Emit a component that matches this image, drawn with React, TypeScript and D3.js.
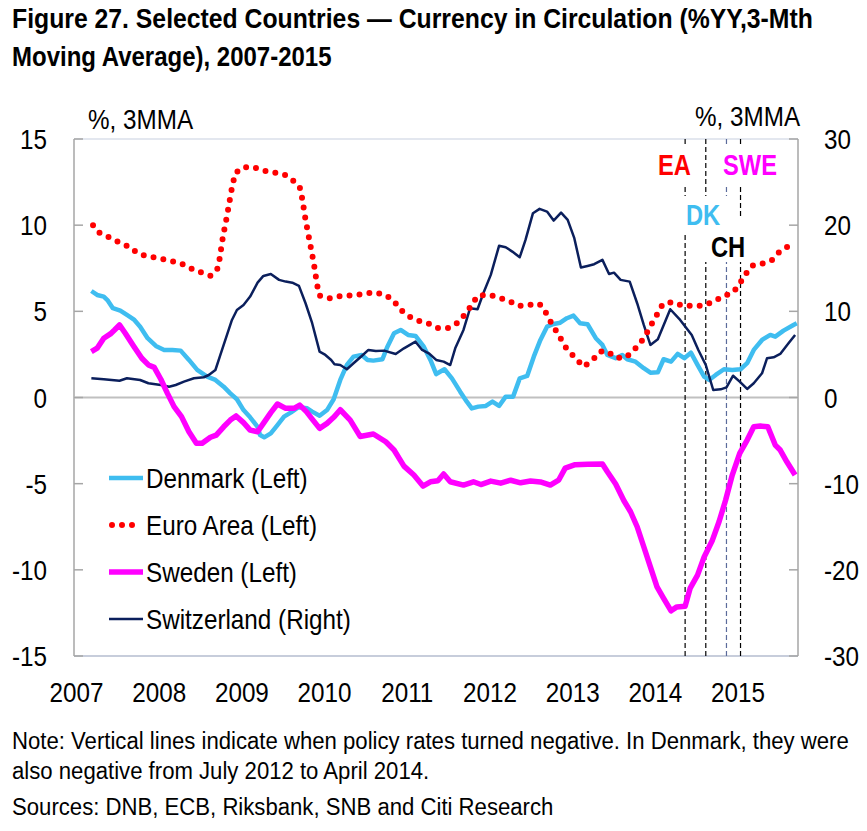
import React from 'react';
import * as d3 from 'd3';

// decimal year, value (% YoY, 3MMA)
const euroArea: [number, number][] = [
  [2007.20, 10.0], [2007.28, 9.55], [2007.40, 9.28], [2007.52, 8.99], [2007.64, 8.74],
  [2007.75, 8.33], [2007.88, 8.18], [2008.01, 8.06], [2008.14, 7.93], [2008.26, 7.79],
  [2008.38, 7.5], [2008.50, 7.27], [2008.62, 7.07], [2008.70, 7.4], [2008.73, 8.03],
  [2008.77, 9.3], [2008.82, 10.54], [2008.89, 12.44], [2008.93, 13.06], [2009.01, 13.35],
  [2009.14, 13.37], [2009.26, 13.17], [2009.39, 13.06], [2009.53, 12.9], [2009.63, 12.55],
  [2009.70, 12.2], [2009.73, 11.53], [2009.77, 10.31], [2009.82, 9.05], [2009.87, 7.79],
  [2009.91, 6.53], [2009.94, 5.91], [2010.06, 5.76], [2010.19, 5.89], [2010.33, 5.93],
  [2010.46, 5.99], [2010.59, 6.1], [2010.72, 5.99], [2010.83, 5.66], [2010.91, 5.14],
  [2011.01, 4.73], [2011.13, 4.46], [2011.25, 4.31], [2011.37, 4.04], [2011.50, 4.04],
  [2011.61, 4.34], [2011.70, 4.83], [2011.78, 5.37], [2011.85, 5.91], [2011.98, 5.97],
  [2012.11, 5.8], [2012.23, 5.6], [2012.35, 5.31], [2012.47, 5.37], [2012.60, 5.43],
  [2012.68, 4.89], [2012.74, 4.34], [2012.81, 3.79], [2012.93, 2.8], [2013.05, 2.22],
  [2013.13, 1.79], [2013.24, 2.16], [2013.33, 2.66], [2013.42, 2.68], [2013.52, 2.31],
  [2013.64, 2.31], [2013.74, 2.74], [2013.83, 3.24], [2013.90, 3.78], [2013.96, 4.31],
  [2014.03, 4.9], [2014.09, 5.43], [2014.21, 5.54], [2014.33, 5.33], [2014.44, 5.33],
  [2014.57, 5.33], [2014.70, 5.55], [2014.82, 5.88], [2014.94, 6.09], [2015.02, 6.6],
  [2015.09, 7.15], [2015.17, 7.65], [2015.28, 7.75], [2015.41, 7.98], [2015.50, 8.45],
  [2015.60, 8.76],
];

const denmark: [number, number][] = [
  [2007.18, 6.18], [2007.25, 5.95], [2007.33, 5.85], [2007.38, 5.62], [2007.44, 5.18],
  [2007.53, 5.04], [2007.61, 4.79], [2007.70, 4.5], [2007.77, 4.11], [2007.86, 3.44],
  [2007.96, 2.99], [2008.06, 2.76], [2008.16, 2.76], [2008.26, 2.72], [2008.36, 2.18],
  [2008.46, 1.6], [2008.58, 1.21], [2008.68, 1.02], [2008.78, 0.63], [2008.86, 0.24],
  [2008.94, -0.1], [2009.02, -0.73], [2009.10, -1.15], [2009.19, -1.7], [2009.22, -2.18],
  [2009.27, -2.31], [2009.35, -2.08], [2009.43, -1.6], [2009.51, -1.11], [2009.59, -0.88],
  [2009.68, -0.57], [2009.79, -0.63], [2009.85, -0.82], [2009.94, -1.06], [2010.03, -0.73],
  [2010.11, -0.1], [2010.19, 1.02], [2010.27, 1.89], [2010.35, 2.37], [2010.45, 2.47],
  [2010.52, 2.18], [2010.59, 2.14], [2010.70, 2.22], [2010.76, 2.95], [2010.84, 3.73],
  [2010.92, 3.92], [2011.01, 3.63], [2011.10, 3.57], [2011.20, 2.95], [2011.28, 2.18],
  [2011.35, 1.36], [2011.45, 1.64], [2011.54, 1.11], [2011.64, 0.34], [2011.72, -0.24],
  [2011.78, -0.63], [2011.86, -0.53], [2011.95, -0.49], [2012.03, -0.24], [2012.11, -0.49],
  [2012.19, 0.05], [2012.28, 0.05], [2012.36, 1.11], [2012.45, 1.25], [2012.53, 2.37],
  [2012.61, 3.34], [2012.69, 4.11], [2012.77, 4.27], [2012.85, 4.34], [2012.93, 4.6],
  [2013.01, 4.75], [2013.09, 4.31], [2013.18, 4.25], [2013.28, 3.44], [2013.36, 3.05],
  [2013.42, 2.47], [2013.52, 2.28], [2013.60, 2.47], [2013.66, 2.22], [2013.76, 2.08],
  [2013.86, 1.7], [2013.94, 1.44], [2014.03, 1.46], [2014.10, 2.22], [2014.19, 2.08],
  [2014.27, 2.53], [2014.35, 2.28], [2014.43, 2.6], [2014.51, 1.89], [2014.59, 1.21],
  [2014.65, 1.02], [2014.73, 1.31], [2014.83, 1.64], [2014.93, 1.6], [2015.03, 1.64],
  [2015.11, 1.99], [2015.19, 2.76], [2015.29, 3.34], [2015.39, 3.63], [2015.45, 3.53],
  [2015.55, 3.88], [2015.67, 4.21], [2015.71, 4.31],
];

const sweden: [number, number][] = [
  [2007.18, 2.66], [2007.25, 2.86], [2007.33, 3.44], [2007.41, 3.69], [2007.46, 3.92],
  [2007.52, 4.21], [2007.59, 3.73], [2007.69, 2.99], [2007.79, 2.28], [2007.87, 1.89],
  [2007.94, 1.75], [2008.02, 1.06], [2008.10, 0.24], [2008.18, -0.53], [2008.27, -1.11],
  [2008.36, -1.99], [2008.45, -2.66], [2008.52, -2.66], [2008.62, -2.31], [2008.69, -2.18],
  [2008.78, -1.7], [2008.86, -1.31], [2008.93, -1.07], [2009.02, -1.46], [2009.10, -1.89],
  [2009.19, -1.99], [2009.26, -1.5], [2009.35, -0.88], [2009.43, -0.38], [2009.53, -0.63],
  [2009.63, -0.63], [2009.70, -0.44], [2009.78, -0.82], [2009.86, -1.31], [2009.94, -1.79],
  [2010.03, -1.5], [2010.11, -1.15], [2010.19, -0.71], [2010.31, -1.31], [2010.43, -2.26],
  [2010.59, -2.12], [2010.74, -2.57], [2010.84, -3.05], [2010.96, -3.98], [2011.08, -4.5],
  [2011.19, -5.14], [2011.28, -4.89], [2011.37, -4.83], [2011.44, -4.44], [2011.52, -4.89],
  [2011.68, -5.08], [2011.80, -4.89], [2011.89, -5.05], [2012.01, -4.85], [2012.13, -4.97],
  [2012.25, -4.8], [2012.37, -4.95], [2012.49, -4.85], [2012.61, -4.9], [2012.73, -5.08],
  [2012.83, -4.8], [2012.91, -4.1], [2013.03, -3.9], [2013.18, -3.88], [2013.36, -3.86],
  [2013.42, -4.31], [2013.52, -5.02], [2013.62, -5.99], [2013.70, -6.63], [2013.78, -7.5],
  [2013.86, -8.66], [2013.94, -9.83], [2014.02, -10.99], [2014.10, -11.66], [2014.19, -12.38],
  [2014.26, -12.15], [2014.36, -12.11], [2014.42, -11.08], [2014.51, -10.31], [2014.59, -9.25],
  [2014.69, -8.28], [2014.77, -7.21], [2014.85, -5.95], [2014.93, -4.5], [2015.02, -3.24],
  [2015.11, -2.47], [2015.19, -1.7], [2015.27, -1.66], [2015.36, -1.7], [2015.45, -2.76],
  [2015.51, -3.05], [2015.59, -3.73], [2015.69, -4.5],
];

// right axis
const switzerland: [number, number][] = [
  [2007.18, 2.23], [2007.33, 2.11], [2007.52, 1.95], [2007.61, 2.23], [2007.77, 2.03],
  [2007.87, 1.65], [2008.02, 1.45], [2008.12, 1.25], [2008.20, 1.45], [2008.30, 1.84],
  [2008.42, 2.23], [2008.54, 2.35], [2008.60, 2.61], [2008.68, 3.19], [2008.74, 4.94],
  [2008.82, 7.26], [2008.88, 9.0], [2008.94, 10.16], [2009.02, 10.74], [2009.10, 11.71],
  [2009.19, 13.33], [2009.26, 14.11], [2009.35, 14.34], [2009.45, 13.65], [2009.53, 13.45],
  [2009.61, 13.33], [2009.69, 12.95], [2009.77, 10.94], [2009.85, 8.62], [2009.94, 5.32],
  [2010.01, 4.94], [2010.08, 4.36], [2010.12, 3.86], [2010.19, 3.77], [2010.27, 3.28],
  [2010.35, 3.97], [2010.45, 4.82], [2010.53, 5.52], [2010.62, 5.4], [2010.72, 5.44],
  [2010.86, 5.05], [2010.96, 5.71], [2011.10, 6.48], [2011.18, 5.52], [2011.26, 5.13],
  [2011.35, 4.36], [2011.44, 4.16], [2011.52, 3.77], [2011.58, 5.71], [2011.68, 7.84],
  [2011.76, 10.36], [2011.85, 10.24], [2011.92, 12.1], [2012.01, 14.23], [2012.11, 17.6],
  [2012.19, 17.44], [2012.27, 16.93], [2012.36, 16.28], [2012.43, 18.29], [2012.52, 21.39],
  [2012.60, 21.89], [2012.69, 21.58], [2012.77, 20.53], [2012.86, 21.46], [2012.94, 20.62],
  [2013.02, 18.49], [2013.10, 15.08], [2013.18, 15.27], [2013.26, 15.47], [2013.36, 15.97],
  [2013.44, 14.34], [2013.50, 14.49], [2013.58, 13.65], [2013.69, 13.45], [2013.78, 10.94],
  [2013.86, 8.42], [2013.94, 6.1], [2014.03, 6.76], [2014.18, 10.24], [2014.30, 9.0],
  [2014.44, 7.26], [2014.52, 5.52], [2014.61, 3.77], [2014.70, 0.87], [2014.79, 0.95],
  [2014.86, 1.18], [2014.94, 2.53], [2015.02, 1.84], [2015.11, 0.99], [2015.19, 1.65],
  [2015.29, 2.81], [2015.35, 4.55], [2015.43, 4.67], [2015.51, 5.05], [2015.61, 6.29],
  [2015.69, 7.26],
];

const years = [2007, 2008, 2009, 2010, 2011, 2012, 2013, 2014, 2015];
const leftTicks = [15, 10, 5, 0, -5, -10, -15];
const rightTicks = [30, 20, 10, 0, -10, -20, -30];

// dates when policy rates turned negative
const negLines = [
  { name: 'EA', t: 2014.36, color: '#000' },
  { name: 'DK', t: 2014.61, color: '#000' },
  { name: 'CH', t: 2014.86, color: '#5b6b9b' },
  { name: 'SWE', t: 2015.03, color: '#000' },
];

const W = 867;
const H = 831;
const left = 74;
const right = 798;
const top = 139;
const bottom = 656;

const FONT = 'Liberation Sans, Arial, Helvetica, sans-serif';

const RED = '#ff0000';
const BLUE = '#3fbdf0';
const MAGENTA = '#ff00ff';
const NAVY = '#0b1f5c';

// the source uses a slightly condensed face, so squeeze the text horizontally
const Txt = ({ x, y, children, anchor = 'start', size = 28, weight = 'normal', fill = '#000', sx = 0.866 }: any) => (
  <text
    transform={`translate(${x},${y}) scale(${sx},1)`}
    textAnchor={anchor}
    fontSize={size}
    fontWeight={weight}
    fill={fill}
    fontFamily={FONT}
  >
    {children}
  </text>
);

export default function App() {
  const x = d3.scaleLinear().domain([2006.97, 2015.725]).range([left, right]);
  const yL = d3.scaleLinear().domain([-15, 15]).range([bottom, top]);
  const yR = d3.scaleLinear().domain([-30, 30]).range([bottom, top]);

  const lineL = d3.line<[number, number]>().x(d => x(d[0])).y(d => yL(d[1]));
  const lineR = d3.line<[number, number]>().x(d => x(d[0])).y(d => yR(d[1]));

  const legend = [
    { label: 'Denmark (Left)', color: BLUE, w: 4.5, dotted: false },
    { label: 'Euro Area (Left)', color: RED, w: 6, dotted: true },
    { label: 'Sweden (Left)', color: MAGENTA, w: 5.5, dotted: false },
    { label: 'Switzerland (Right)', color: NAVY, w: 2.5, dotted: false },
  ];

  return (
    <svg width={W} height={H} style={{ position: 'absolute', left: 0, top: 0, background: '#fff' }}>
      {/* title */}
      <Txt x={12} y={28} weight="bold" sx={0.885}>
        Figure 27. Selected Countries — Currency in Circulation (%YY,3-Mth
      </Txt>
      <Txt x={12} y={66} weight="bold" sx={0.857}>
        Moving Average), 2007-2015
      </Txt>

      <Txt x={88} y={129}>%, 3MMA</Txt>
      <Txt x={695} y={126}>%, 3MMA</Txt>

      {/* frame */}
      <line x1={left} x2={right} y1={top} y2={top} stroke="#c8d0e0" strokeWidth={1.2} />
      <line x1={left} x2={right} y1={bottom} y2={bottom} stroke="#b4bccf" strokeWidth={1.5} />
      <line x1={left} x2={left} y1={top} y2={bottom} stroke="#a6a6a6" strokeWidth={1.5} />
      <line x1={right} x2={right} y1={top} y2={bottom} stroke="#a6a6a6" strokeWidth={1.5} />
      <line x1={left} x2={right} y1={yL(0)} y2={yL(0)} stroke="#c0c0c0" strokeWidth={2} />

      {leftTicks.map(t => (
        <g key={'l' + t}>
          <line x1={left} x2={left + 9} y1={yL(t)} y2={yL(t)} stroke="#a6a6a6" strokeWidth={1.5} />
          <Txt x={47} y={yL(t) + 10} anchor="end">{t}</Txt>
        </g>
      ))}
      {rightTicks.map(t => (
        <g key={'r' + t}>
          <line x1={right - 9} x2={right} y1={yR(t)} y2={yR(t)} stroke="#a6a6a6" strokeWidth={1.5} />
          <Txt x={824} y={yR(t) + 10}>{t}</Txt>
        </g>
      ))}
      {years.map(yr => (
        <Txt key={yr} x={x(yr)} y={702} anchor="middle">{yr}</Txt>
      ))}

      {/* policy-rate lines */}
      {negLines.map(l => (
        <line key={l.name} x1={x(l.t)} x2={x(l.t)} y1={top} y2={bottom}
          stroke={l.color} strokeWidth={1.2} strokeDasharray="5,3" />
      ))}

      {/* series */}
      <path d={lineL(denmark) || ''} fill="none" stroke={BLUE} strokeWidth={4.5} strokeLinejoin="round" />
      <path d={lineR(switzerland) || ''} fill="none" stroke={NAVY} strokeWidth={2.5} strokeLinejoin="round" />
      <path d={lineL(sweden) || ''} fill="none" stroke={MAGENTA} strokeWidth={5.5} strokeLinejoin="round" />
      <path d={lineL(euroArea) || ''} fill="none" stroke={RED} strokeWidth={6} strokeLinecap="round" strokeDasharray="0,10" />

      {/* labels on the policy lines */}
      <rect x={654} y={147} width={42} height={40} fill="#fff" />
      <rect x={719} y={147} width={64} height={40} fill="#fff" />
      <rect x={682} y={196} width={47} height={36} fill="#fff" />
      <rect x={703} y={218} width={47} height={44} fill="#fff" />
      <Txt x={658} y={175} size={30} weight="bold" fill={RED} sx={0.79}>EA</Txt>
      <Txt x={723} y={175} size={30} weight="bold" fill={MAGENTA} sx={0.79}>SWE</Txt>
      <Txt x={686} y={225} size={30} weight="bold" fill={BLUE} sx={0.79}>DK</Txt>
      <Txt x={711} y={257} size={30} weight="bold" fill="#000" sx={0.79}>CH</Txt>

      {/* legend */}
      {legend.map((d, i) => {
        const ly = 478 + i * 47;
        return (
          <g key={d.label}>
            {d.dotted ? (
              <line x1={112} x2={134} y1={ly} y2={ly} stroke={d.color} strokeWidth={d.w}
                strokeLinecap="round" strokeDasharray="0,10" />
            ) : (
              <line x1={109} x2={143} y1={ly} y2={ly} stroke={d.color} strokeWidth={d.w} />
            )}
            <Txt x={146} y={ly + 10}>{d.label}</Txt>
          </g>
        );
      })}

      {/* notes */}
      <Txt x={12} y={749} size={24.5} sx={0.904}>
        Note: Vertical lines indicate when policy rates turned negative. In Denmark, they were
      </Txt>
      <Txt x={12} y={779} size={24.5} sx={0.904}>
        also negative from July 2012 to April 2014.
      </Txt>
      <Txt x={12} y={815} size={24.5} sx={0.904}>
        Sources: DNB, ECB, Riksbank, SNB and Citi Research
      </Txt>
    </svg>
  );
}
